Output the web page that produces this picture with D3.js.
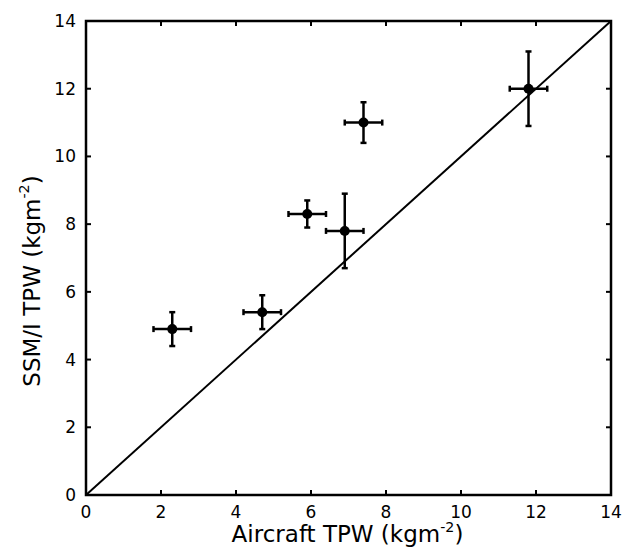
<!DOCTYPE html>
<html lang="en">
<head>
  <meta charset="UTF-8">
  <title>SSM/I vs Aircraft TPW</title>
  <script src="https://d3js.org/d3.v7.min.js"></script>
  <style>
    body { margin: 0; background: #fff; }
    svg { display: block; }
    .tick-label { font-family: "DejaVu Sans", sans-serif; font-size: 17px; fill: #000; }
    .axis-title { font-family: "DejaVu Sans", sans-serif; font-size: 23px; fill: #000; }
  </style>
</head>
<body>
  <svg id="chart" width="626" height="557"></svg>

  <script>
    // data
    const aircraftTPW = [2.3, 4.7, 5.9, 6.9, 7.4, 11.8];
    const ssmiTPW     = [4.9, 5.4, 8.3, 7.8, 11.0, 12.0];
    const xErr        = [0.5, 0.5, 0.5, 0.5, 0.5, 0.5];
    const yErr        = [0.5, 0.5, 0.4, 1.1, 0.6, 1.1];
    const tickValues  = [0, 2, 4, 6, 8, 10, 12, 14];
    const oneToOne    = [0, 14];

    const svg = d3.select('#chart');
    const mLeft = 86, mRight = 611, mTop = 21, mBottom = 495;

    const x = d3.scaleLinear().domain([0, 14]).range([mLeft, mRight]);
    const y = d3.scaleLinear().domain([0, 14]).range([mBottom, mTop]);

    // ticks inward on all four sides
    const tickLen = 5;
    const g = svg.append('g');
    tickValues.forEach(v => {
      g.append('line').attr('x1', x(v)).attr('x2', x(v)).attr('y1', mBottom).attr('y2', mBottom - tickLen);
      g.append('line').attr('x1', x(v)).attr('x2', x(v)).attr('y1', mTop).attr('y2', mTop + tickLen);
      g.append('line').attr('y1', y(v)).attr('y2', y(v)).attr('x1', mLeft).attr('x2', mLeft + tickLen);
      g.append('line').attr('y1', y(v)).attr('y2', y(v)).attr('x1', mRight).attr('x2', mRight - tickLen);
    });
    g.selectAll('line').attr('stroke', '#000').attr('stroke-width', 2);

    // frame
    svg.append('rect')
      .attr('x', mLeft).attr('y', mTop)
      .attr('width', mRight - mLeft).attr('height', mBottom - mTop)
      .attr('fill', 'none').attr('stroke', '#000').attr('stroke-width', 2.5);

    // tick labels
    svg.selectAll('.xl').data(tickValues).enter().append('text')
      .attr('class', 'tick-label')
      .attr('x', d => x(d)).attr('y', mBottom + 23)
      .attr('text-anchor', 'middle')
      .text(d => d);

    svg.selectAll('.yl').data(tickValues).enter().append('text')
      .attr('class', 'tick-label')
      .attr('x', mLeft - 10).attr('y', d => y(d) + 6)
      .attr('text-anchor', 'end')
      .text(d => d);

    // 1:1 line
    svg.append('line')
      .attr('x1', x(oneToOne[0])).attr('y1', y(oneToOne[0]))
      .attr('x2', x(oneToOne[1])).attr('y2', y(oneToOne[1]))
      .attr('stroke', '#000').attr('stroke-width', 2);

    // error bars + points
    const cap = 3;
    const pts = svg.append('g').attr('stroke', '#000').attr('stroke-width', 2.5);
    aircraftTPW.forEach((xv, i) => {
      const yv = ssmiTPW[i];
      const x0 = x(xv - xErr[i]), x1 = x(xv + xErr[i]);
      const y0 = y(yv - yErr[i]), y1 = y(yv + yErr[i]);
      pts.append('line').attr('x1', x0).attr('x2', x1).attr('y1', y(yv)).attr('y2', y(yv));
      pts.append('line').attr('x1', x(xv)).attr('x2', x(xv)).attr('y1', y0).attr('y2', y1);
      pts.append('line').attr('x1', x0).attr('x2', x0).attr('y1', y(yv) - cap).attr('y2', y(yv) + cap);
      pts.append('line').attr('x1', x1).attr('x2', x1).attr('y1', y(yv) - cap).attr('y2', y(yv) + cap);
      pts.append('line').attr('y1', y0).attr('y2', y0).attr('x1', x(xv) - cap).attr('x2', x(xv) + cap);
      pts.append('line').attr('y1', y1).attr('y2', y1).attr('x1', x(xv) - cap).attr('x2', x(xv) + cap);
      svg.append('circle').attr('cx', x(xv)).attr('cy', y(yv)).attr('r', 5).attr('fill', '#000');
    });

    // axis titles with a superscript unit
    function title(sel, main, lift) {
      sel.append('tspan').text(main);
      sel.append('tspan').attr('dy', -lift).attr('font-size', '0.62em').text('-2');
      sel.append('tspan').attr('dy', lift).text(')');
    }

    const xt = svg.append('text').attr('class', 'axis-title')
      .attr('x', (mLeft + mRight) / 2 - 1).attr('y', 542).attr('text-anchor', 'middle');
    title(xt, 'Aircraft TPW (kgm', 10);

    const yt = svg.append('text').attr('class', 'axis-title')
      .attr('font-size', 25)
      .attr('transform', 'translate(40,281) rotate(-90)').attr('text-anchor', 'middle');
    title(yt, 'SSM/I TPW (kgm', 11);
  </script>
</body>
</html>
